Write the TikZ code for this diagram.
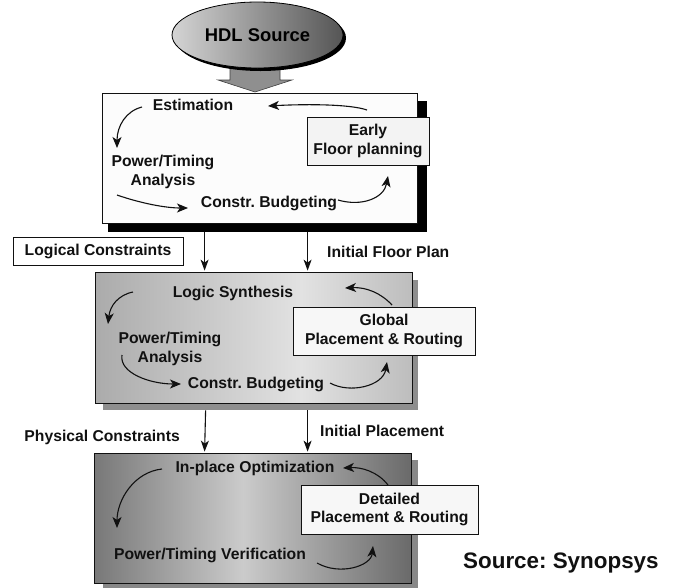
\documentclass[tikz,border=0pt]{standalone}
\usepackage{fontspec}
\setmainfont{Liberation Sans}
\usetikzlibrary{arrows.meta,shapes.geometric}

\definecolor{inkline}{HTML}{111111}
\definecolor{firstfill}{HTML}{FCFCFC}
\definecolor{subfill}{HTML}{F3F3F3}
\definecolor{shadowmid}{HTML}{8E8E8E}
\definecolor{shadowlow}{HTML}{888888}
\definecolor{twoL}{HTML}{ABABAB}
\definecolor{twoM}{HTML}{E2E2E2}
\definecolor{twoR}{HTML}{BDBDBD}
\definecolor{threeL}{HTML}{787878}
\definecolor{threeM}{HTML}{CBCBCB}
\definecolor{threeR}{HTML}{6A6A6A}
\definecolor{ovalL}{HTML}{D4D4D4}
\definecolor{ovalR}{HTML}{555555}
\definecolor{blockfill}{HTML}{8F8F8F}

% horizontal gradients for the two lower stages (25bp..75bp spans the box)
\pgfdeclarehorizontalshading{stagetwo}{100bp}{color(0bp)=(twoL); color(25bp)=(twoL); color(57.5bp)=(twoM); color(75bp)=(twoR); color(100bp)=(twoR)}
\pgfdeclarehorizontalshading{stagethree}{100bp}{color(0bp)=(threeL); color(25bp)=(threeL); color(48.5bp)=(threeM); color(75bp)=(threeR); color(100bp)=(threeR)}

\begin{document}
\frenchspacing
\begin{tikzpicture}[x=1pt,y=-1pt,
  font=\bfseries\fontsize{15.7}{18.5}\selectfont,
  lbl/.style={inner sep=0pt, align=center, text=inkline},
  stagebox/.style={draw=inkline, line width=0.8pt, inner sep=0pt},
  toolbox/.style={draw=inkline, line width=0.8pt, fill=subfill, inner sep=0pt,
                  align=center, text=inkline},
  flow/.style={line width=1.1pt, draw=inkline, -{Stealth[length=11pt,width=9pt,inset=3pt]}},
  conn/.style={line width=1.1pt, draw=inkline, -{Stealth[length=11pt,width=8pt,inset=3pt]}},
]
\useasboundingbox (0,0) rectangle (675,587);

% ---- input: HDL source and the block arrow into the first stage
\draw[fill=blockfill, draw=black!75, line width=0.6pt]
  (230,66) -- (280,66) -- (280,80) -- (292,80) -- (255,92) -- (218,80) -- (230,80) -- cycle;
\node[ellipse, fill=black, minimum width=171pt, minimum height=66pt, inner sep=0pt] (hdlshadow) at (260.5,38) {};
\node[ellipse, draw=black, line width=0.8pt, left color=ovalL, right color=ovalR,
      minimum width=171pt, minimum height=66pt, inner sep=0pt,
      font=\bfseries\fontsize{18.4}{20}\selectfont] (hdl) at (257.5,35) {HDL Source};

% ---- drop shadows of the three stages
\fill[black] (108,101) rectangle (427,232);
\fill[shadowmid] (103,280) rectangle (418,410);
\fill[shadowlow] (103,460) rectangle (418,592);

% ---- stage boxes
\node[stagebox, fill=firstfill, minimum width=315pt, minimum height=130pt] (b1) at (259.5,158) {};
\node[stagebox, shade, shading=stagetwo, minimum width=317pt, minimum height=131pt] (b2) at (253.5,337.5) {};
\node[stagebox, shade, shading=stagethree, minimum width=317pt, minimum height=130pt] (b3) at (252.5,518) {};

% ---- stage 1
\node[lbl] (est) at (193,105) {Estimation};
\node[lbl] (pta) at (163,172) {Power/Timing\\Analysis};
\node[lbl] (cba) at (269,203) {Constr. Budgeting};
\node[toolbox, minimum width=122pt, minimum height=48pt] (efp) at (368,141) {Early\\Floor planning};

\coordinate (a1s) at (367,110); \coordinate (a1e) at (268,106);
\coordinate (a2s) at (142,107); \coordinate (a2e) at (117,148);
\coordinate (a3s) at (117,195); \coordinate (a3e) at (188,208);
\coordinate (a4s) at (338,200); \coordinate (a4e) at (388,176);
\draw[flow] (a1s) .. controls (350,104) and (305,104) .. (a1e);
\draw[flow] (a2s) .. controls (126,111) and (117,126) .. (a2e);
\draw[flow] (a3s) .. controls (140,203) and (165,208) .. (a3e);
\draw[flow] (a4s) .. controls (362,207) and (384,198) .. (a4e);

% ---- between stage 1 and stage 2
\node[draw=inkline, line width=0.8pt, fill=white, inner sep=0pt, text=inkline,
      minimum width=170pt, minimum height=28pt] (lcn) at (98,251) {Logical Constraints};
\node[lbl, anchor=west] (ifp) at (327,252) {Initial Floor Plan};
\draw[conn] ([shift={(103,9)}]b1.south west) -- ([shift={(110,-1)}]b2.north west);
\draw[conn] ([shift={(206,9)}]b1.south west) -- ([shift={(213,-1)}]b2.north west);

% ---- stage 2
\node[lbl] (lsy) at (233,293) {Logic Synthesis};
\node[lbl] (ptb) at (170,349) {Power/Timing\\Analysis};
\node[lbl] (cbb) at (256,384) {Constr. Budgeting};
\node[toolbox, fill=white!97!black, minimum width=182pt, minimum height=48pt] (gpr) at (384,331) {Global\\Placement \& Routing};

\coordinate (b1s) at (392,305); \coordinate (b1e) at (345,288);
\coordinate (b2s) at (133,292); \coordinate (b2e) at (108,324);
\coordinate (b3s) at (122,355); \coordinate (b3e) at (181,384);
\coordinate (b4s) at (330,383); \coordinate (b4e) at (387,362);
\draw[flow] (b1s) .. controls (381,293) and (366,287) .. (b1e);
\draw[flow] (b2s) .. controls (118,295) and (110,306) .. (b2e);
\draw[flow] (b3s) .. controls (119,373) and (150,384) .. (b3e);
\draw[flow] (b4s) .. controls (350,394) and (383,386) .. (b4e);

% ---- between stage 2 and stage 3
\node[lbl, anchor=east] (phy) at (180,437) {Physical Constraints};
\node[lbl, anchor=west] (ipl) at (320,431) {Initial Placement};
\draw[conn] ([shift={(111,7)}]b2.south west) -- ([shift={(111,-1)}]b3.north west);
\draw[conn] ([shift={(213,7)}]b2.south west) -- ([shift={(214,-1)}]b3.north west);

% ---- stage 3
\node[lbl] (iop) at (255,468) {In-place Optimization};
\node[lbl] (ptv) at (210,555) {Power/Timing Verification};
\node[toolbox, fill=white!97!black, minimum width=177pt, minimum height=49pt] (dpr) at (389.5,509.5) {Detailed\\Placement \& Routing};

\coordinate (c1s) at (388,485); \coordinate (c1e) at (343,468);
\coordinate (c2s) at (162,469); \coordinate (c2e) at (117,528);
\coordinate (c3s) at (317,563); \coordinate (c3e) at (373,546);
\draw[flow] (c1s) .. controls (378,472) and (362,467) .. (c1e);
\draw[flow] (c2s) .. controls (134,472) and (117,500) .. (c2e);
\draw[flow] (c3s) .. controls (340,576) and (371,566) .. (c3e);

% ---- credit
\node[lbl, anchor=west, font=\bfseries\fontsize{22.4}{24}\selectfont] (src) at (463,563) {Source: Synopsys};
\end{tikzpicture}
\end{document}
